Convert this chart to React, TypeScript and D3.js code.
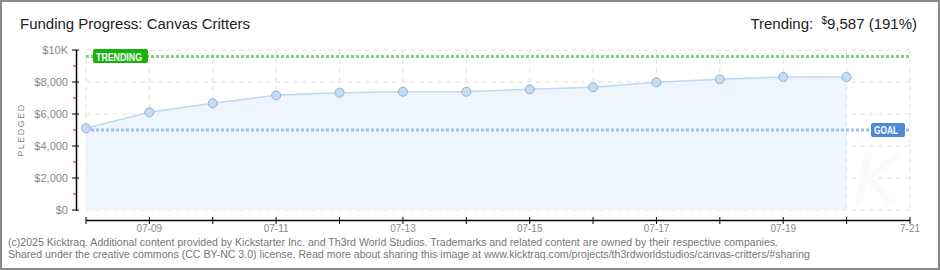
import React from "react";
import * as d3 from "d3";

const dates = ["07-08","07-09","07-10","07-11","07-12","07-13","07-14","07-15","07-16","07-17","07-18","07-19","07-20"];
const pledged = [5106, 6106, 6669, 7169, 7331, 7394, 7394, 7544, 7669, 7981, 8169, 8313, 8313];
const xTickLabels = ["07-09","07-11","07-13","07-15","07-17","07-19","7-21"];
const xTickDays = [1, 3, 5, 7, 9, 11, 13];
const yTicks = [0, 2000, 4000, 6000, 8000, 10000];
const yTickLabels = ["$0", "$2,000", "$4,000", "$6,000", "$8,000", "$10K"];
const yMinor = [1000, 3000, 5000, 7000, 9000];
const goal = 5000;
const trending = 9587;
const totalDays = dates.length;

const FONT = "'Liberation Sans', 'DejaVu Sans', sans-serif";

export default function App() {
  const x = d3.scaleLinear().domain([0, totalDays]).range([86, 910]);
  const y = d3.scaleLinear().domain([0, 10000]).range([210, 50]);
  const pts = pledged.map((v, i) => [x(i), y(v)] as [number, number]);
  const line = d3.line<[number, number]>().x(d => d[0]).y(d => d[1])(pts) || "";
  const area = d3.area<[number, number]>().x(d => d[0]).y0(y(0)).y1(d => d[1])(pts) || "";
  const days = d3.range(0, totalDays + 1);

  return (
    <svg width={940} height={270} style={{ position: "fixed", left: 0, top: 0, background: "#fff" }} fontFamily={FONT}>
      <rect x={1} y={1} width={938} height={268} fill="#fff" stroke="#8a8a8a" strokeWidth={2} />
      {/* title */}
      <text x={20} y={29} fontSize={15} fill="#222" textLength={230} lengthAdjust="spacingAndGlyphs">Funding Progress: Canvas Critters</text>
      <text x={917} y={29} fontSize={15} fill="#222" textAnchor="end">
        <tspan>Trending: </tspan>
        <tspan fontSize={10} dy={-5} dx={4}>$</tspan>
        <tspan dy={5}>9,587 (191%)</tspan>
      </text>
      {/* gridlines */}
      {days.map(d => (
        <line key={"vg" + d} x1={x(d)} x2={x(d)} y1={50} y2={210} stroke="#e2e2e2" strokeDasharray="5,4" />
      ))}
      {yTicks.map(t => (
        <line key={"hg" + t} x1={86} x2={910} y1={y(t)} y2={y(t)} stroke="#e2e2e2" strokeDasharray="5,4" />
      ))}
      {/* area */}
      <path d={area} fill="#eef5fd" />
      <line x1={x(pledged.length - 1)} x2={x(pledged.length - 1)} y1={y(pledged[pledged.length - 1])} y2={210} stroke="#dde6ef" strokeDasharray="5,4" />
      <path d={line} fill="none" stroke="#bcd8f3" strokeWidth={1.5} />
      {/* watermark */}
      <text x={876} y={205} fontSize={72} fontStyle="italic" fill="#fbfbfb" textAnchor="middle" fontFamily="'DejaVu Sans', sans-serif">K</text>
      {/* goal line */}
      <line x1={86} x2={910} y1={y(goal)} y2={y(goal)} stroke="#9cc0e6" strokeWidth={3} strokeDasharray="3,2" />
      <rect x={871} y={y(goal) - 7} width={34} height={14} rx={2} fill="#4a8ad8" />
      <text x={874} y={y(goal) + 4} fontSize={10} fontWeight="bold" fill="#fff" textLength={24} lengthAdjust="spacingAndGlyphs">GOAL</text>
      {/* trending line */}
      <line x1={86} x2={910} y1={y(trending)} y2={y(trending)} stroke="#84d27e" strokeWidth={3} strokeDasharray="3,2" />
      <rect x={93} y={y(trending) - 7.5} width={55} height={14} rx={2} fill="#18b30e" />
      <text x={96} y={y(trending) + 4} fontSize={10} fontWeight="bold" fill="#fff" textLength={46} lengthAdjust="spacingAndGlyphs">TRENDING</text>
      {/* points */}
      {pts.map((p, i) => (
        <circle key={"p" + i} cx={p[0]} cy={p[1]} r={4.5} fill="#c4ddf7" stroke="#95b2d0" strokeWidth={1} />
      ))}
      {/* y axis */}
      <line x1={76.5} x2={76.5} y1={50} y2={211} stroke="#000" strokeWidth={1.5} />
      {yTicks.map((t, i) => (
        <g key={"yt" + t}>
          <line x1={72} x2={79} y1={y(t)} y2={y(t)} stroke="#000" />
          <text x={68} y={y(t) + 4} fontSize={11} fill="#888" textAnchor="end">{yTickLabels[i]}</text>
        </g>
      ))}
      {yMinor.map(t => (
        <line key={"ym" + t} x1={73} x2={76} y1={y(t)} y2={y(t)} stroke="#e00" />
      ))}
      <text transform="translate(24,130) rotate(-90)" fontSize={9} fill="#888" textAnchor="middle" letterSpacing={1.5}>PLEDGED</text>
      {/* x axis */}
      <line x1={86} x2={910} y1={220.5} y2={220.5} stroke="#000" strokeWidth={1.5} />
      {days.map(d => (
        <line key={"xt" + d} x1={x(d)} x2={x(d)} y1={217} y2={224} stroke="#000" />
      ))}
      {xTickDays.map((d, i) => (
        <text key={"xl" + d} x={x(d)} y={232} fontSize={10} fill="#888" textAnchor="middle">{xTickLabels[i]}</text>
      ))}
      {/* footer */}
      <text x={8} y={246} fontSize={10} fill="#777" textLength={770} lengthAdjust="spacingAndGlyphs">(c)2025 Kicktraq. Additional content provided by Kickstarter Inc. and Th3rd World Studios. Trademarks and related content are owned by their respective companies.</text>
      <text x={8} y={258} fontSize={10} fill="#777" textLength={802} lengthAdjust="spacingAndGlyphs">Shared under the creative commons (CC BY-NC 3.0) license. Read more about sharing this image at www.kicktraq.com/projects/th3rdworldstudios/canvas-critters/#sharing</text>
    </svg>
  );
}
